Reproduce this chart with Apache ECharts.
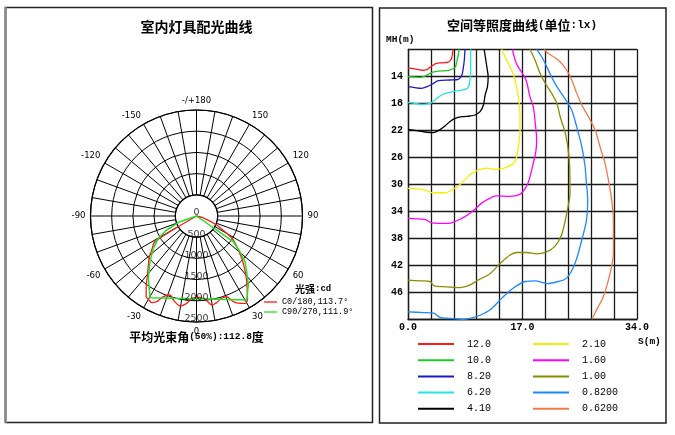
<!DOCTYPE html>
<html><head><meta charset="utf-8">
<script src="https://cdn.jsdelivr.net/npm/echarts@6/dist/echarts.min.js"></script>
<style>html,body{margin:0;padding:0;background:#fff}#c{width:675px;height:435px}</style>
</head><body><div id="c"></div>
<script>
// ---------- Polar (luminous intensity, cd) ----------
const angleLabels = {'-180':'-/+180','-150':'-150','-120':'-120','-90':'-90','-60':'-60','-30':'-30','0':'0','30':'30','60':'60','90':'90','120':'120','150':'150'};
const radialTicks = [0, 500, 1000, 1500, 2000, 2500];
const c0Name = 'C0/180,113.7°';
const c90Name = 'C90/270,111.9°';
const c0Angles = [-90,-62,-58.3,-52.8,-49.2,-43.6,-39,-36,-32,-30,-27.4,-24.9,-22.4,-18.5,-15.4,-10.4,-6.4,-3,2.5,6.8,9.7,13.1,17,20.5,23.3,26.5,29.5,31.5,33.5,38,44.7,50.9,56.9,60.1,65.9,75,82,90];
const c0Values = [0,0,1150,1326,1470,1650,1842,2016,2240,2270,2301,2228,2057,1965,2055,2158,2073,1945,1920,2011,2129,2098,2030,2031,2199,2301,2367,2300,2170,1918,1570,1271,1037,820,521,150,0,0];
const c90Angles = [-90,-80,-71,-64.8,-59.7,-53.2,-45.5,-37.7,-29.6,-15,0,15,30.9,36.9,42,46.7,50.6,55,58,90];
const c90Values = [0,0,412,776,1043,1272,1537,1858,2217,2009,1953,2034,2308,2035,1768,1571,1327,1058,0,0];

// ---------- Isolux curves: [S (m), MH (m)] ----------
const isoNames = ['12.0','10.0','8.20','6.20','4.10','2.10','1.60','1.00','0.8200','0.6200'];
const isoColors = ['#ff1a1a','#22cc22','#1a1acc','#22e6e6','#000000','#f2f200','#ff00ff','#8c8c00','#1e88ff','#f07a4a'];
const iso12 = [[0,12.8],[1.0,12.9],[2.0,13.1],[2.8,13.0],[3.5,12.5],[4.2,12.1],[5.0,12.0],[6.0,11.9],[6.45,11.4],[6.6,10.7],[6.7,10]];
const iso10 = [[0,14.06],[1.8,14.15],[2.5,13.96],[3.3,13.56],[4,13.31],[5,13.21],[6.2,13.07],[7,12.67],[7.3,11.6],[7.5,10.6],[7.6,10]];
const iso82 = [[0,15.54],[1,15.68],[2,15.78],[2.8,15.54],[3.8,15.04],[4.5,14.65],[6.2,14.55],[7.5,14.45],[8,13.81],[8.2,12.82],[8.36,11.58],[8.46,10]];
const iso62 = [[0,17.91],[1,18.0],[2,18.15],[3.3,18.0],[4,17.51],[4.75,16.92],[5.5,16.52],[6.2,16.37],[7.5,16.13],[8.5,15.93],[9,15.54],[9.2,14.55],[9.3,13.07],[9.3,11.09],[9.3,10]];
const iso41 = [[0,21.86],[1.3,22.05],[2.5,22.25],[3.8,22.35],[4.5,22.05],[5.5,21.36],[6.2,20.72],[7,20.23],[8,19.98],[9.2,19.88],[9.95,19.73],[10.7,19.24],[11.2,18.25],[11.45,16.77],[11.8,15.54],[11.9,14.06],[11.7,12.57],[11.55,11.58],[11.4,10.59],[11.3,10]];
const iso21 = [[0,30.6],[1.8,30.7],[3.0,31.0],[3.6,31.25],[5.5,31.25],[6.7,30.75],[8.0,29.8],[9.2,28.6],[10.4,27.9],[11.7,27.6],[13.2,27.8],[14.6,27.5],[15.9,26.6],[16.4,24.4],[16.63,22.0],[16.63,20.0],[16.45,17.5],[16.1,15.5],[15.6,13.6],[14.65,11.6],[13.9,10]];
const iso16 = [[0,35.04],[2.5,35.2],[3.5,35.7],[6.0,35.8],[8.0,35.04],[9.5,34.06],[11.2,32.6],[13.2,31.7],[15.1,31.8],[16.6,31.5],[17.4,30.6],[17.9,29.6],[18.6,26.9],[19.0,25.0],[19.1,23.4],[18.9,21.0],[18.6,18.5],[18.1,17.0],[17.5,14.5],[16.1,12.1],[15.5,10]];
const iso100 = [[0,44.2],[1.8,44.3],[3.3,44.4],[3.8,45.0],[5.7,45.2],[7.7,45.3],[9.2,44.9],[10.4,44.2],[12.2,43.2],[13.7,41.7],[15.1,40.5],[16.1,40.1],[17.6,40.1],[19.1,40.3],[20.6,40.0],[21.8,39.2],[22.8,37.5],[23.56,34.3],[24.05,31.3],[24.05,29.4],[23.9,25.9],[23.4,22.6],[22.6,20.0],[22.1,18.0],[21.3,16.5],[20.35,15.0],[19.6,13.56],[18.86,11.6],[18.1,10]];
const iso082 = [[0,48.9],[2.3,49.0],[3.8,49.1],[4.75,49.7],[6.2,49.85],[8.2,50],[9.2,49.85],[10.7,49.4],[12.2,48.6],[13.9,46.9],[15.6,45.4],[17.4,44.4],[18.9,44.3],[20.6,44.7],[22.3,44.4],[23.56,43.9],[24.8,41.7],[25.8,38.25],[26.5,35.3],[26.68,32.3],[26.45,29.4],[26.3,27.4],[25.8,24.4],[25.05,21.5],[24.3,19.0],[23.3,17.3],[22.1,15.54],[21.3,14.06],[20.6,12.6],[19.85,11.1],[19.1,10]];
const iso062 = [[27.3,50],[28.0,48.6],[29.0,46.65],[30.0,43.2],[30.5,40.2],[30.5,35.3],[30.24,32.3],[29.8,29.6],[29.25,26.9],[28.5,24.4],[27.8,22.0],[26.8,20.0],[25.8,18.25],[25.05,16.5],[24.3,14.5],[23.56,13.07],[22.3,11.6],[20.8,10.6],[20.24,10]];
const isoData = [iso12, iso10, iso82, iso62, iso41, iso21, iso16, iso100, iso082, iso062];
const xTickLabels = ['0.0','17.0','34.0'];
const yTickLabels = ['14','18','22','26','30','34','38','42','46'];

const CJK = 'Noto Sans CJK SC';
const MONO = 'Liberation Mono';
const SANS = 'DejaVu Sans';
const lineIcon = 'path://M0 0H36V2H0Z';

const chart = echarts.init(document.getElementById('c'), null, {renderer: 'canvas'});

const polarCenter = [196.5, 216];
const series = [
  {
    name: c0Name, type: 'line', coordinateSystem: 'polar', polarIndex: 1,
    data: c0Angles.map((a, i) => [c0Values[i], a]), symbol: 'none', smooth: 0.25,
    lineStyle: {color: '#ff1a1a', width: 1.3}, itemStyle: {color: '#ff1a1a'}, z: 4
  },
  {
    name: c90Name, type: 'line', coordinateSystem: 'polar', polarIndex: 1,
    data: c90Angles.map((a, i) => [c90Values[i], a]), symbol: 'none',
    lineStyle: {color: '#22e022', width: 1.5}, itemStyle: {color: '#22e022'}, z: 5
  },
  {
    type: 'scatter', coordinateSystem: 'polar', polarIndex: 1, silent: true,
    data: radialTicks.map(v => [v, 0]), symbolSize: 1,
    itemStyle: {color: 'rgba(0,0,0,0)'},
    label: {show: true, position: 'inside', offset: [0, -3], formatter: p => String(p.value[0]),
      color: '#000', fontSize: 9.5, fontFamily: SANS}, z: 6
  }
];
isoData.forEach((d, i) => {
  series.push({
    name: isoNames[i], type: 'line', xAxisIndex: 0, yAxisIndex: 0, data: d,
    symbol: 'none', smooth: 0.3, lineStyle: {color: isoColors[i], width: 1.3},
    itemStyle: {color: isoColors[i]}, z: 3
  });
});

const legendText = {fontSize: 10, fontFamily: MONO, color: '#000', lineHeight: 12, padding: [0, 0, 0, 8]};

chart.setOption({
  animation: false,
  textStyle: {fontFamily: SANS},
  title: [
    {text: '室内灯具配光曲线', left: 196.5, top: 20, textAlign: 'center', padding: 0,
      textStyle: {fontSize: 14, fontWeight: 'bold', fontFamily: CJK, color: '#000'}},
    {text: '{a|平均光束角}{b|(50%):112.8}{a|度}', left: 196.5, top: 331, textAlign: 'center', padding: 0,
      textStyle: {rich: {a: {fontSize: 12, fontWeight: 'bold', fontFamily: CJK, color: '#000'},
        b: {fontSize: 9.5, fontFamily: MONO, color: '#000'}}}},
    {text: '{a|光强}{b|:cd}', left: 295, top: 284, padding: 0,
      textStyle: {rich: {a: {fontSize: 10, fontWeight: 'bold', fontFamily: CJK, color: '#000'},
        b: {fontSize: 9, fontWeight: 'bold', fontFamily: MONO, color: '#000'}}}},
    {text: '{a|空间等照度曲线}{b|(}{a|单位}{b|:lx)}', left: 522, top: 19, textAlign: 'center', padding: 0,
      textStyle: {rich: {a: {fontSize: 13, fontWeight: 'bold', fontFamily: CJK, color: '#000'},
        b: {fontSize: 11, fontWeight: 'bold', fontFamily: MONO, color: '#000'}}}},
    {text: 'MH(m)', left: 386, top: 35, padding: 0,
      textStyle: {fontSize: 9.5, fontWeight: 'bold', fontFamily: MONO, color: '#000'}},
    {text: 'S(m)', left: 638, top: 337, padding: 0,
      textStyle: {fontSize: 9.5, fontWeight: 'bold', fontFamily: MONO, color: '#000'}}
  ],
  legend: [
    {data: [c0Name, c90Name], orient: 'vertical', left: 264, top: 297, padding: 0,
      itemWidth: 13, itemHeight: 6, itemGap: 0, icon: 'path://M0 0H13V1.3H0Z',
      textStyle: {fontSize: 8.5, fontFamily: MONO, color: '#000', lineHeight: 10}},
    {data: isoNames.slice(0, 5), orient: 'vertical', left: 418, top: 338, padding: 0,
      itemWidth: 36, itemHeight: 10, itemGap: 4.2, icon: lineIcon, textStyle: legendText},
    {data: isoNames.slice(5), orient: 'vertical', left: 533, top: 338, padding: 0,
      itemWidth: 36, itemHeight: 10, itemGap: 4.2, icon: lineIcon, textStyle: legendText}
  ],
  polar: [
    {center: polarCenter, radius: [21.2, 106]},
    {center: polarCenter, radius: [0, 106]}
  ],
  angleAxis: [
    {polarIndex: 0, type: 'value', min: -180, max: 180, interval: 10, startAngle: 90, clockwise: false,
      axisLine: {show: true, lineStyle: {color: '#000', width: 1.2}},
      axisTick: {show: false},
      splitLine: {show: true, lineStyle: {color: '#000', width: 1}},
      axisLabel: {show: true, margin: 5, color: '#000', fontSize: 8.5, fontFamily: SANS,
        formatter: v => (v === 180 ? '' : (angleLabels[String(v)] || ''))}},
    {polarIndex: 1, type: 'value', min: -180, max: 180, startAngle: 90, clockwise: false,
      axisLine: {show: false}, axisTick: {show: false}, splitLine: {show: false}, axisLabel: {show: false}}
  ],
  radiusAxis: [
    {polarIndex: 0, type: 'value', min: 500, max: 2500, interval: 500,
      axisLine: {show: false}, axisTick: {show: false}, axisLabel: {show: false},
      splitLine: {show: true, lineStyle: {color: '#000', width: 1}}},
    {polarIndex: 1, type: 'value', min: 0, max: 2500,
      axisLine: {show: false}, axisTick: {show: false}, axisLabel: {show: false}, splitLine: {show: false}}
  ],
  grid: {left: 408, right: 38, top: 49.3, bottom: 115.7, containLabel: false},
  xAxis: {type: 'value', min: 0, max: 34, interval: 3.4,
    axisLine: {show: true, lineStyle: {color: '#1a1a1a', width: 1.3}},
    axisTick: {show: false},
    splitLine: {show: true, lineStyle: {color: '#1a1a1a', width: 1.3}},
    axisLabel: {margin: 3, color: '#000', fontSize: 10, fontWeight: 'bold', fontFamily: MONO,
      showMinLabel: true, showMaxLabel: true,
      formatter: v => {
        const s = (Math.round(v * 10) / 10).toFixed(1);
        return xTickLabels.indexOf(s) >= 0 ? s : '';
      }}},
  yAxis: {type: 'value', inverse: true, min: 10, max: 50, interval: 4,
    axisLine: {show: true, lineStyle: {color: '#1a1a1a', width: 1.3}},
    axisTick: {show: false},
    splitLine: {show: true, lineStyle: {color: '#1a1a1a', width: 1.3}},
    axisLabel: {margin: 5, color: '#000', fontSize: 10, fontWeight: 'bold', fontFamily: MONO,
      formatter: v => {
        const s = String(Math.round(v));
        return yTickLabels.indexOf(s) >= 0 ? s : '';
      }}},
  graphic: [
    {type: 'rect', silent: true, shape: {x: 5.5, y: 7.5, width: 367, height: 415},
      style: {fill: 'none', stroke: '#222', lineWidth: 1.5}},
    {type: 'line', silent: true, shape: {x1: 5.5, y1: 7, x2: 5.5, y2: 423},
      style: {stroke: '#888', lineWidth: 2.5}},
    {type: 'rect', silent: true, shape: {x: 379.5, y: 8, width: 286.5, height: 415},
      style: {fill: 'none', stroke: '#222', lineWidth: 1.5}}
  ],
  series: series
});
</script>
</body></html>
